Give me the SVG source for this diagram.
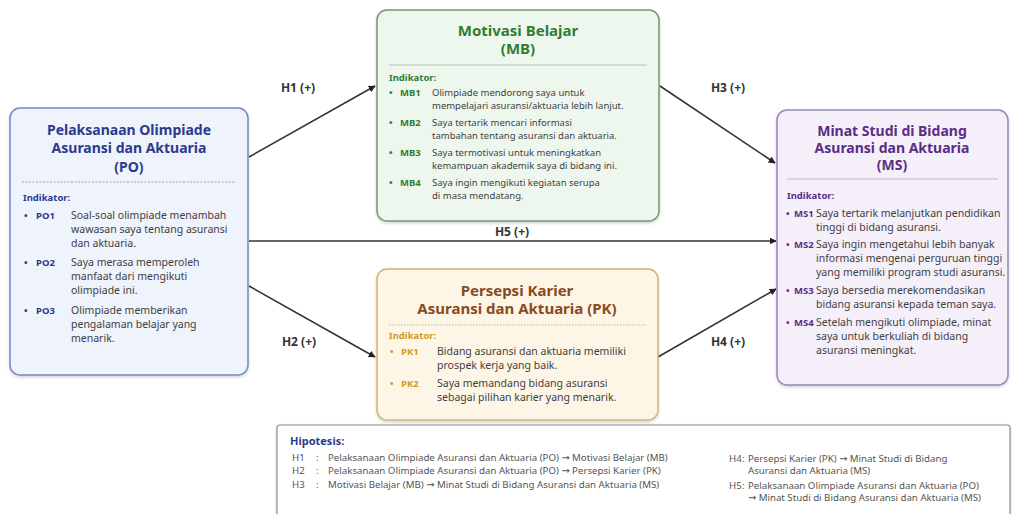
<svg xmlns="http://www.w3.org/2000/svg" width="1012" height="514" viewBox="0 0 1012 514">
<style>
text{font-family:"Noto Sans","Liberation Sans",sans-serif}
.t{font-size:14px;font-weight:bold;text-anchor:middle}
.t15{font-size:15px}
.b{font-size:10.5px;fill:#3f3f3f}
.bs{font-size:9.5px}
.c{font-size:9.5px;font-weight:bold}
.ind{font-size:9.5px;font-weight:bold}
.lab{font-size:12px;font-weight:bold;fill:#333}
.h{font-size:9.7px;fill:#555}
.ar{font-family:"DejaVu Sans",sans-serif}
.po{fill:#2d3a8c}.mb{fill:#2e7d32}.pk{fill:#8a4a1e}.pkc{fill:#d39a1e}.ms{fill:#5b2d86}
.conn{stroke:#333;stroke-width:1.6;fill:none;marker-end:url(#ah)}
</style>
<defs>
<marker id="ah" viewBox="0 0 10 10" refX="9" refY="5" markerWidth="7" markerHeight="7" markerUnits="userSpaceOnUse" orient="auto">
<path d="M0,0 L10,5 L0,10 z" fill="#222"/>
</marker>
<filter id="sh" x="-5%" y="-5%" width="110%" height="115%"><feDropShadow dx="0" dy="1.5" stdDeviation="1.5" flood-color="#000" flood-opacity="0.18"/></filter>
</defs>
<rect width="1012" height="514" fill="#ffffff"/>

<g id="connectors">
<line class="conn" x1="249" y1="157" x2="375" y2="86"/>
<line class="conn" x1="660" y1="86" x2="775" y2="163"/>
<line class="conn" x1="249" y1="241" x2="776" y2="241"/>
<line class="conn" x1="249" y1="286" x2="375" y2="357"/>
<line class="conn" x1="658" y1="357" x2="776" y2="289"/>
<text class="lab" x="298" y="92" text-anchor="middle">H1 (+)</text>
<text class="lab" x="728" y="92" text-anchor="middle">H3 (+)</text>
<text class="lab" x="512" y="236" text-anchor="middle">H5 (+)</text>
<text class="lab" x="299" y="346" text-anchor="middle">H2 (+)</text>
<text class="lab" x="728" y="346" text-anchor="middle">H4 (+)</text>
</g>

<g id="node-po">
<rect x="10" y="108" width="238" height="267" rx="10" fill="#eef3fc" stroke="#7189c4" stroke-width="1.5" filter="url(#sh)"/>
<text class="t po" x="129" y="135">Pelaksanaan Olimpiade</text>
<text class="t po" x="129" y="153">Asuransi dan Aktuaria</text>
<text class="t po" x="129" y="172">(PO)</text>
<line x1="22" y1="182" x2="236" y2="182" stroke="#9aa3b5" stroke-width="1" stroke-dasharray="2,1.5"/>
<text class="ind po" x="23" y="201">Indikator:</text>
<text class="c po" x="24" y="219">•</text><text class="c po" x="36" y="219">PO1</text>
<text class="b" x="71" y="219">Soal-soal olimpiade menambah</text>
<text class="b" x="71" y="233">wawasan saya tentang asuransi</text>
<text class="b" x="71" y="247">dan aktuaria.</text>
<text class="c po" x="24" y="266">•</text><text class="c po" x="36" y="266">PO2</text>
<text class="b" x="71" y="266">Saya merasa memperoleh</text>
<text class="b" x="71" y="280">manfaat dari mengikuti</text>
<text class="b" x="71" y="294">olimpiade ini.</text>
<text class="c po" x="24" y="314">•</text><text class="c po" x="36" y="314">PO3</text>
<text class="b" x="71" y="314">Olimpiade memberikan</text>
<text class="b" x="71" y="328">pengalaman belajar yang</text>
<text class="b" x="71" y="342">menarik.</text>
</g>

<g id="node-mb">
<rect x="377" y="10" width="282" height="211" rx="10" fill="#eef7ee" stroke="#6f9a72" stroke-width="1.5" filter="url(#sh)"/>
<text class="t t15 mb" x="518" y="36">Motivasi Belajar</text>
<text class="t t15 mb" x="518" y="54">(MB)</text>
<line x1="389" y1="65" x2="647" y2="65" stroke="#b5bdb5" stroke-width="1.2"/>
<text class="ind mb" x="389" y="81">Indikator:</text>
<text class="c mb" x="389" y="96">•</text><text class="c mb" x="400" y="96">MB1</text>
<text class="b bs" x="432" y="96">Olimpiade mendorong saya untuk</text>
<text class="b bs" x="432" y="109">mempelajari asuransi/aktuaria lebih lanjut.</text>
<text class="c mb" x="389" y="126">•</text><text class="c mb" x="400" y="126">MB2</text>
<text class="b bs" x="432" y="126">Saya tertarik mencari informasi</text>
<text class="b bs" x="432" y="139">tambahan tentang asuransi dan aktuaria.</text>
<text class="c mb" x="389" y="156">•</text><text class="c mb" x="400" y="156">MB3</text>
<text class="b bs" x="432" y="156">Saya termotivasi untuk meningkatkan</text>
<text class="b bs" x="432" y="169">kemampuan akademik saya di bidang ini.</text>
<text class="c mb" x="389" y="186">•</text><text class="c mb" x="400" y="186">MB4</text>
<text class="b bs" x="432" y="186">Saya ingin mengikuti kegiatan serupa</text>
<text class="b bs" x="432" y="199">di masa mendatang.</text>
</g>

<g id="node-pk">
<rect x="377" y="269" width="281" height="151" rx="10" fill="#fdf6e7" stroke="#d2b277" stroke-width="1.5" filter="url(#sh)"/>
<text class="t t15 pk" x="517" y="296">Persepsi Karier</text>
<text class="t t15 pk" x="517" y="314">Asuransi dan Aktuaria (PK)</text>
<line x1="389" y1="325" x2="646" y2="325" stroke="#c2b99a" stroke-width="1.2" stroke-dasharray="1.5,1.5"/>
<text class="ind pkc" x="389" y="339">Indikator:</text>
<text class="c pkc" x="390" y="355">•</text><text class="c pkc" x="401" y="355">PK1</text>
<text class="b" x="437" y="355">Bidang asuransi dan aktuaria memiliki</text>
<text class="b" x="437" y="369">prospek kerja yang baik.</text>
<text class="c pkc" x="390" y="387">•</text><text class="c pkc" x="401" y="387">PK2</text>
<text class="b" x="437" y="387">Saya memandang bidang asuransi</text>
<text class="b" x="437" y="401">sebagai pilihan karier yang menarik.</text>
</g>

<g id="node-ms">
<rect x="777" y="110" width="231" height="275" rx="10" fill="#f5effa" stroke="#9b84bd" stroke-width="1.5" filter="url(#sh)"/>
<text class="t ms" x="892" y="136">Minat Studi di Bidang</text>
<text class="t ms" x="892" y="153">Asuransi dan Aktuaria</text>
<text class="t ms" x="892" y="170">(MS)</text>
<line x1="787" y1="179" x2="998" y2="179" stroke="#c0b7c9" stroke-width="1.2"/>
<text class="ind ms" x="787" y="199">Indikator:</text>
<text class="c ms" x="786" y="217">•</text><text class="c ms" x="794" y="217">MS1</text>
<text class="b" x="816" y="217">Saya tertarik melanjutkan pendidikan</text>
<text class="b" x="816" y="231">tinggi di bidang asuransi.</text>
<text class="c ms" x="786" y="248">•</text><text class="c ms" x="794" y="248">MS2</text>
<text class="b" x="816" y="248">Saya ingin mengetahui lebih banyak</text>
<text class="b" x="816" y="262">informasi mengenai perguruan tinggi</text>
<text class="b" x="816" y="276">yang memiliki program studi asuransi.</text>
<text class="c ms" x="786" y="294">•</text><text class="c ms" x="794" y="294">MS3</text>
<text class="b" x="816" y="294">Saya bersedia merekomendasikan</text>
<text class="b" x="816" y="308">bidang asuransi kepada teman saya.</text>
<text class="c ms" x="786" y="326">•</text><text class="c ms" x="794" y="326">MS4</text>
<text class="b" x="816" y="326">Setelah mengikuti olimpiade, minat</text>
<text class="b" x="816" y="340">saya untuk berkuliah di bidang</text>
<text class="b" x="816" y="354">asuransi meningkat.</text>
</g>

<g id="hipotesis">
<rect x="277" y="425" width="733" height="95" rx="3" fill="#ffffff" stroke="#8a8a8a" stroke-width="1.2" filter="url(#sh)"/>
<text class="po" x="290" y="445" font-size="11" font-weight="bold">Hipotesis:</text>
<text class="h" x="292" y="461">H1</text><text class="h" x="316" y="461">:</text><text class="h" x="328" y="461">Pelaksanaan Olimpiade Asuransi dan Aktuaria (PO) <tspan class="ar">→</tspan> Motivasi Belajar (MB)</text>
<text class="h" x="292" y="474">H2</text><text class="h" x="316" y="474">:</text><text class="h" x="328" y="474">Pelaksanaan Olimpiade Asuransi dan Aktuaria (PO) <tspan class="ar">→</tspan> Persepsi Karier (PK)</text>
<text class="h" x="292" y="488">H3</text><text class="h" x="316" y="488">:</text><text class="h" x="328" y="488">Motivasi Belajar (MB) <tspan class="ar">→</tspan> Minat Studi di Bidang Asuransi dan Aktuaria (MS)</text>
<text class="h" x="729" y="462">H4</text><text class="h" x="742" y="462">:</text><text class="h" x="748" y="462">Persepsi Karier (PK) <tspan class="ar">→</tspan> Minat Studi di Bidang</text>
<text class="h" x="748" y="474">Asuransi dan Aktuaria (MS)</text>
<text class="h" x="729" y="489">H5</text><text class="h" x="742" y="489">:</text><text class="h" x="748" y="489">Pelaksanaan Olimpiade Asuransi dan Aktuaria (PO)</text>
<text class="h" x="748" y="501"><tspan class="ar">→</tspan> Minat Studi di Bidang Asuransi dan Aktuaria (MS)</text>
</g>
</svg>
